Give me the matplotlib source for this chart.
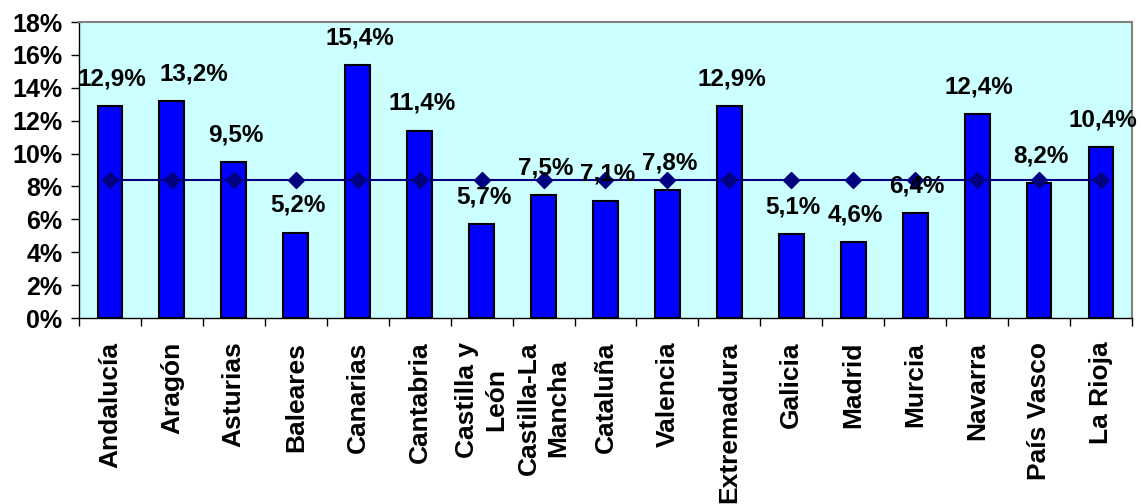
import matplotlib
matplotlib.use("Agg")
import matplotlib.pyplot as plt
from matplotlib.ticker import FixedLocator, FuncFormatter

plt.rcParams['font.family'] = ['Liberation Sans', 'DejaVu Sans']
plt.rcParams['font.weight'] = 'bold'

regiones = ["Andalucía", "Aragón", "Asturias", "Baleares", "Canarias",
            "Cantabria", "Castilla y\nLeón", "Castilla-La\nMancha", "Cataluña",
            "Valencia", "Extremadura", "Galicia", "Madrid", "Murcia",
            "Navarra", "País Vasco", "La Rioja"]
tasa = [12.9, 13.2, 9.5, 5.2, 15.4, 11.4, 5.7, 7.5, 7.1, 7.8, 12.9,
        5.1, 4.6, 6.4, 12.4, 8.2, 10.4]
media_espana = 8.4
yticks = [0, 2, 4, 6, 8, 10, 12, 14, 16, 18]

fig = plt.figure(figsize=(11.41, 5.04), dpi=100)
ax = fig.add_axes([0.0692, 0.369, 0.9229, 0.5873])
ax.set_facecolor('#CCFFFF')

x = list(range(len(regiones)))
ax.bar(x, tasa, width=0.4, color='#0000FF', edgecolor='black',
       linewidth=1.5, zorder=2)
# media nacional como línea con rombos
ax.plot(x, [media_espana] * len(x), color='#000080', linewidth=1.5,
        marker='D', markersize=8, markerfacecolor='#000080',
        markeredgecolor='#000080', zorder=3)

# Aragón se desplaza a la derecha para no pisar la etiqueta de Andalucía
desplaza = {1: 14}
for xi, v in zip(x, tasa):
    ax.annotate(f"{v:.1f}%".replace('.', ','), (xi, v),
                xytext=(1.5 + desplaza.get(xi, 0), 19.5),
                textcoords='offset points',
                ha='center', va='center', fontsize=17.5, fontweight='bold',
                zorder=4)

ax.set_xlim(-0.5, len(regiones) - 0.5)
ax.set_ylim(0, 18)
ax.set_yticks(yticks)
ax.yaxis.set_major_formatter(FuncFormatter(lambda v, _: f"{v:.0f}%"))
ax.tick_params(axis='y', direction='out', length=5.8, width=1,
               pad=6, labelsize=18, colors='black')

ax.set_xticks(x)
ax.set_xticklabels(regiones, rotation=90, fontsize=19, fontweight='bold',
                   linespacing=1.25)
ax.xaxis.set_minor_locator(FixedLocator([i - 0.5 for i in range(len(regiones) + 1)]))
ax.tick_params(axis='x', which='major', length=0, pad=17)
ax.tick_params(axis='x', which='minor', direction='out', length=5.8, width=1)

for side in ('top', 'right'):
    ax.spines[side].set_color('#808080')
    ax.spines[side].set_linewidth(1.5)
for side in ('left', 'bottom'):
    ax.spines[side].set_color('black')
    ax.spines[side].set_linewidth(1)

fig.savefig("out.png", dpi=100)
